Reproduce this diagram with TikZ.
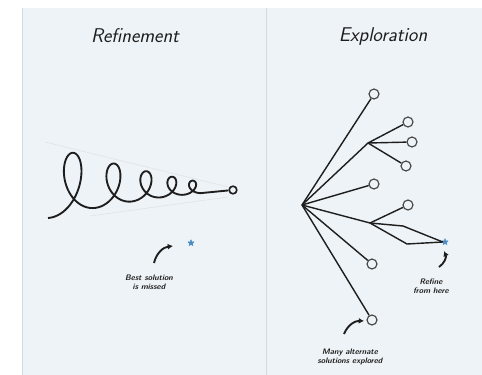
\documentclass[tikz,border=0pt]{standalone}
\usepackage{tikz}
\usetikzlibrary{arrows.meta,shapes.geometric}
\usepackage{xcolor}
\definecolor{panel}{HTML}{EEF3F7}
\definecolor{rule}{HTML}{D3DAE0}
\definecolor{ink}{HTML}{1E1E1E}
\definecolor{leafgray}{HTML}{4A4A4A}
\definecolor{starblue}{HTML}{4A8CC4}
\definecolor{faint}{HTML}{E0E5E9}
\tikzset{
  title/.style={font=\sffamily\itshape\fontsize{17}{19}\selectfont,text=ink},
  note/.style={font=\sffamily\bfseries\itshape\fontsize{6.8}{7.8}\selectfont,text=ink,align=center},
  leaf/.style={circle,draw=leafgray,fill=panel,minimum size=8.5pt,inner sep=0pt,line width=1pt},
  tipnode/.style={circle,draw=ink,fill=panel,minimum size=6.5pt,inner sep=0pt,line width=1.4pt},
  best/.style={star,star points=5,star point ratio=2.2,fill=starblue,draw=starblue,
    minimum size=5.5pt,inner sep=0pt},
  branch/.style={line width=1.2pt,color=ink,line join=round},
  coil/.style={line width=1.6pt,color=ink,line join=round},
  guide/.style={line width=0.6pt,color=faint},
  callout/.style={-{Latex[length=4.5pt,width=5pt]},line width=1.6pt,color=ink},
}

\begin{document}
\begin{tikzpicture}[x=0.03cm,y=-0.03cm]
  \useasboundingbox (0,0) rectangle (482,375);
  \fill[white] (0,0) rectangle (482,375);
  \fill[panel] (22,8) rectangle (482,375);
  \draw[rule,line width=0.8pt] (22,8) -- (22,375);
  \draw[rule,line width=0.6pt] (266,8) -- (266,375);

  % left panel
  \node[title] (reftitle) at (135,36) {Refinement};
  \coordinate (g1) at (45,142); \coordinate (g2) at (228,187);
  \coordinate (g3) at (90,216); \coordinate (g4) at (228,197);
  \draw[guide] (g1) -- (g2); \draw[guide] (g3) -- (g4);
  \node[tipnode] (tip) at (233,190) {};
  \draw[coil] plot[domain=0:31.4,samples=400,smooth,variable=\t]
    ({48+226*(1-exp(-0.036*\t))+21*exp(-0.036*\t)*sin(\t r)},
     {190+28*exp(-0.07*\t)-36*exp(-0.06*\t)*(1-cos(\t r))}) -- (tip);
  \node[best] (missed) at (191,243) {};
  \node[note] (misstext) at (149,282) {Best solution\\is missed};
  \coordinate (m0) at (154,263); \coordinate (m1) at (173,246);
  \draw[callout] (m0) to[bend left=35] (m1);

  % right panel
  \node[title] (exptitle) at (383,37) {Exploration};
  \coordinate (root) at (302,205);
  \coordinate (fa) at (368,143); \coordinate (fb) at (370,223);
  \node[leaf] (l1) at (374,94){}; \node[leaf] (l2) at (408,122){};
  \node[leaf] (l3) at (412,142){}; \node[leaf] (l4) at (406,166){};
  \node[leaf] (l5) at (374,184){}; \node[leaf] (l6) at (408,205){};
  \node[leaf] (l7) at (372,264){}; \node[leaf] (l8) at (372,320){};
  \node[best] (found) at (445,242) {};
  \coordinate (up) at (403,226); \coordinate (dn) at (407,244);
  \draw[branch] (root) -- (l1); \draw[branch] (root) -- (fa);
  \draw[branch] (fa) -- (l2); \draw[branch] (fa) -- (l3); \draw[branch] (fa) -- (l4);
  \draw[branch] (root) -- (l5); \draw[branch] (root) -- (fb);
  \draw[branch] (fb) -- (l6);
  \draw[branch] (fb) -- (up) -- (found.west); \draw[branch] (fb) -- (dn) -- (found.west);
  \draw[branch] (root) -- (l7); \draw[branch] (root) -- (l8);
  \node[note] (refinetext) at (431,286) {Refine\\from here};
  \coordinate (r0) at (439,267); \coordinate (r1) at (444,251);
  \draw[callout] (r0) to[bend right=40] (r1);
  \node[note] (manytext) at (350,357) {Many alternate\\solutions explored};
  \coordinate (a0) at (344,334); \coordinate (a1) at (364,321);
  \draw[callout] (a0) to[bend left=35] (a1);
\end{tikzpicture}
\end{document}
